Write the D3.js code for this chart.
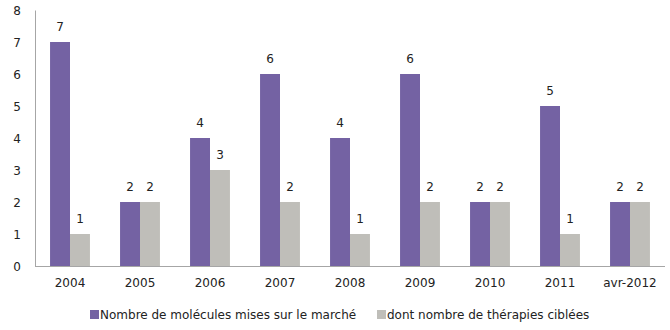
<!DOCTYPE html>
<html><head><meta charset="utf-8">
<script src="https://cdn.jsdelivr.net/npm/d3@7"></script>
<style>body{margin:0;background:#fff}svg{display:block}text{font-family:"DejaVu Sans",sans-serif}</style>
</head><body><svg id="c" width="670" height="330"></svg>
<script>
const categories = ["2004","2005","2006","2007","2008","2009","2010","2011","avr-2012"];
const seriesNames = ["Nombre de molécules mises sur le marché","dont nombre de thérapies ciblées"];
const molecules = [7,2,4,6,4,6,2,5,2];
const ciblees = [1,2,3,2,1,2,2,1,2];
const yTicks = [0,1,2,3,4,5,6,7,8];
const colors = ["#7462a3","#bfbeb9"];

const svg = d3.select("#c");
const m = {l:35, r:665, t:10, b:266};
const x = d3.scaleBand().domain(categories).range([m.l, m.r]).paddingInner(0).paddingOuter(0);
const y = d3.scaleLinear().domain([0,8]).range([m.b, m.t]);
const bw = x.bandwidth()*0.285;

const yAxis = svg.append("g").attr("transform",`translate(${m.l},0)`)
  .call(d3.axisLeft(y).tickValues(yTicks).tickSize(0).tickPadding(14));
yAxis.select(".domain").attr("stroke","#a6a6a6");
yAxis.selectAll("text").attr("font-size",12).attr("fill","#222").attr("dy","0.35em");

const data = [molecules, ciblees];
data.forEach((vals,si)=>{
  const g = svg.append("g");
  g.selectAll("rect").data(vals).join("rect")
    .attr("x",(d,i)=>x(categories[i])+x.bandwidth()/2 - bw + si*bw)
    .attr("width",bw)
    .attr("y",d=>y(d)).attr("height",d=>y(0)-y(d))
    .attr("fill",colors[si]);
  g.selectAll("text").data(vals).join("text")
    .attr("x",(d,i)=>x(categories[i])+x.bandwidth()/2 - bw/2 + si*bw)
    .attr("y",d=>y(d)-11)
    .attr("text-anchor","middle").attr("font-size",12).attr("fill","#222")
    .text(d=>d);
});

const xAxis = svg.append("g").attr("transform",`translate(0,${m.b})`)
  .call(d3.axisBottom(x).tickSize(0).tickPadding(12));
xAxis.select(".domain").attr("stroke","#a6a6a6").attr("d",`M${m.l},0.5H${m.r}`);
xAxis.selectAll("text").attr("font-size",12).attr("fill","#222");

const legX = [90, 377];
const lg = svg.append("g");
seriesNames.forEach((n,i)=>{
  lg.append("rect").attr("x",legX[i]).attr("y",310).attr("width",9).attr("height",9).attr("fill",colors[i]);
  lg.append("text").attr("x",legX[i]+10).attr("y",319).attr("font-size",12).attr("fill","#222").text(n);
});
</script></body></html>
